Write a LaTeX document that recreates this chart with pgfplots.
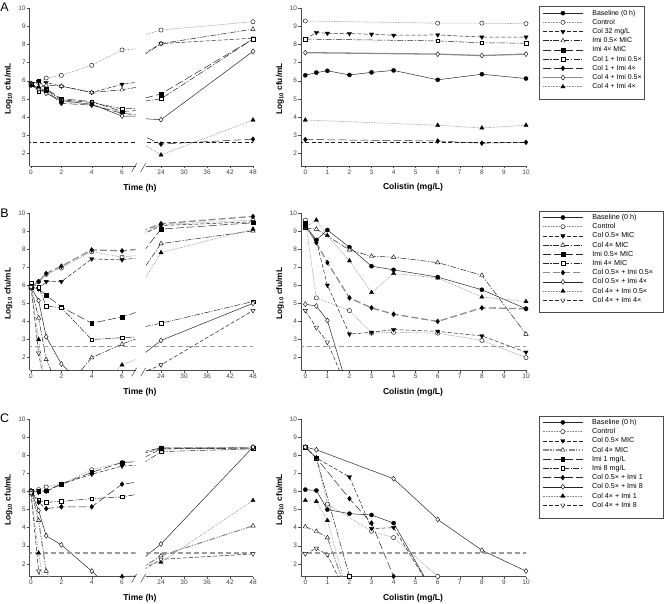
\documentclass[border=0pt]{standalone}
\usepackage{pgfplots}
\pgfplotsset{compat=1.18}
\usepackage{pgfplotstable}
\usepackage{fontspec}
\setmainfont{Liberation Sans}

% ---------------- data ----------------
\pgfplotstableread{
t ctl c32 i05 i4 c1i05 c1i4 c4i05 c4i4
0 5.85 5.85 5.85 5.8 5.8 5.75 5.8 5.75
0.5 5.9 5.95 5.6 6.0 5.4 5.6 5.55 5.65
1 6.15 5.9 5.75 5.55 5.5 5.45 5.3 5.4
2 6.3 5.7 5.7 5.0 4.95 4.75 4.9 4.85
4 6.85 5.35 5.35 4.85 4.8 4.65 4.7 4.7
6 7.7 5.8 5.5 4.3 4.45 4.2 4.05 4.25
24 8.8 8.05 8.05 5.27 5.0 2.5 3.85 1.9
48 9.26 8.35 8.85 8.3 8.3 2.77 7.62 3.83
}\Aleft
\pgfplotstableread{
x base ctl c32 c1i05 c1i4 c4i05 c4i4
0 6.3 9.3 8.3 8.3 2.75 7.55 3.83
0.5 6.45 nan 8.66 nan nan nan nan
1 6.55 nan 8.62 nan nan nan nan
2 6.32 nan 8.6 nan nan nan nan
3 6.46 nan 8.57 nan nan nan nan
4 6.57 nan 8.51 nan nan nan nan
6 6.05 9.18 8.53 8.2 2.67 7.47 3.54
8 6.36 9.18 8.41 8.09 2.55 7.39 3.39
10 6.12 9.15 8.41 8.08 2.6 7.47 3.54
}\Aright
\pgfplotstableread{
t ctl c05 c4 i05 i4 c05i05 c05i4 c4i05 c4i4
0 5.9 5.9 5.9 5.9 6.15 5.9 5.9 5.9 5.9
0.5 6.2 5.8 4.2 5.8 5.9 6.2 5.15 3.0 2.25
1 6.6 6.2 1.9 5.45 4.85 6.65 3.15 0 0
2 6.95 6.2 0 4.8 4.75 7.05 1.65 0 0
4 7.85 7.45 2.0 3.9 3.0 7.95 0 0 0
6 7.55 7.4 2.75 4.25 3.1 7.9 0 1.6 0
24 9.35 9.3 8.3 9.1 3.9 9.4 2.95 7.8 1.6
48 9.6 9.5 9.0 9.45 5.1 9.8 5.0 9.1 4.6
}\Bleft
\pgfplotstableread{
x base ctl c05 c4 i05 i4 c05i05 c05i4 c4i05 c4i4
0 9.3 9.6 9.25 9.15 9.45 9.2 9.3 4.95 9.2 4.6
0.5 8.5 5.3 8.45 9.1 nan nan 8.35 4.85 9.6 3.65
1 9.05 nan 6.0 nan nan nan 7.25 4.05 8.75 2.85
2 8.1 4.6 3.3 7.95 nan nan 5.3 0 7.35 0
3 7.05 3.35 3.4 7.6 nan nan 4.75 nan 5.6 nan
4 6.85 3.4 3.55 7.55 nan nan 4.4 nan 6.65 nan
6 6.45 3.35 3.45 7.25 nan nan 4.0 nan 6.4 nan
8 5.75 2.95 3.2 6.55 nan nan 4.75 nan 5.35 nan
10 4.7 2.0 2.3 3.3 nan nan 4.7 nan 5.1 nan
}\Bright
\pgfplotstableread{
t ctl c05 c4 i1 i8 c05i1 c05i8 c4i1 c4i8
0 6.0 6.0 6.05 5.95 6.0 5.95 6.0 5.9 5.9
0.5 6.1 5.95 4.4 6.0 5.5 5.4 4.95 2.6 1.6
1 6.25 6.0 1.6 6.05 5.4 5.05 3.55 0 0
2 6.4 6.4 0 6.4 5.45 5.15 3.05 0 0
4 7.2 6.95 0 7.05 5.6 5.15 1.6 0 0
6 7.6 7.4 0 7.6 5.7 6.4 0 1.31 0
24 8.4 8.35 2.45 8.4 8.2 8.35 3.1 2.1 2.25
48 8.45 8.4 4.1 8.4 8.35 8.4 8.45 5.5 2.55
}\Cleft
\pgfplotstableread{
x base ctl c05 c4 i1 i8 c05i1 c05i8 c4i1 c4i8
0 6.1 8.45 8.45 4.05 8.45 8.45 8.45 8.45 5.5 2.55
0.5 6.05 7.85 7.85 3.8 nan 7.85 7.85 8.3 5.45 2.85
1 5.0 5.3 nan 3.45 nan nan nan nan 4.4 2.5
2 4.77 nan 6.8 0 nan 1.31 5.6 nan 0 0
3 4.7 3.8 3.95 nan nan nan 4.25 nan nan nan
4 4.25 3.45 4.0 nan nan nan 1.31 6.7 nan nan
6 0 1.31 0 nan nan nan nan 4.45 nan nan
8 nan nan nan nan nan nan nan 2.75 nan nan
10 nan nan nan nan nan nan nan 1.6 nan nan
}\Cright

% ---------------- styles ----------------
\pgfplotsset{
 sSolid/.style={black!85, line width=0.5bp, solid},
 sDot/.style={black!45, line width=0.6bp, dash pattern=on 0.7bp off 0.9bp},
 sDash/.style={black!85, line width=0.5bp, dash pattern=on 4bp off 2bp},
 sDashDot/.style={black!85, line width=0.5bp, dash pattern=on 6bp off 1.5bp on 1.2bp off 1.5bp},
 sLong/.style={black!85, line width=0.5bp, dash pattern=on 8bp off 3bp},
 sGray/.style={black!45, line width=1.3bp, solid},
 sGrayLong/.style={black!45, line width=1.3bp, dash pattern=on 7bp off 3bp},
 sGrayDDD/.style={black!45, line width=1.1bp, dash pattern=on 6bp off 1.5bp on 1.2bp off 1.5bp on 1.2bp off 1.5bp},
 mFC/.style={mark=*, mark size=2.1bp, mark options={solid, fill=black, draw=black, line width=0.3bp}},
 mOC/.style={mark=*, mark size=2.1bp, mark options={solid, fill=white, draw=black, line width=0.4bp}},
 mFTd/.style={mark=triangle*, mark size=2.5bp, mark options={solid, fill=black, draw=black, rotate=180, line width=0.3bp}},
 mOTd/.style={mark=triangle*, mark size=2.5bp, mark options={solid, fill=white, draw=black, rotate=180, line width=0.4bp}},
 mFTu/.style={mark=triangle*, mark size=2.5bp, mark options={solid, fill=black, draw=black, line width=0.3bp}},
 mOTu/.style={mark=triangle*, mark size=2.5bp, mark options={solid, fill=white, draw=black, line width=0.4bp}},
 mFS/.style={mark=square*, mark size=1.8bp, mark options={solid, fill=black, draw=black, line width=0.3bp}},
 mOS/.style={mark=square*, mark size=1.8bp, mark options={solid, fill=white, draw=black, line width=0.4bp}},
 mFD/.style={mark=diamond*, mark size=2.5bp, mark options={solid, fill=black, draw=black, line width=0.3bp}},
 mOD/.style={mark=diamond*, mark size=2.5bp, mark options={solid, fill=white, draw=black, line width=0.4bp}},
 lodA/.style={black!90, line width=0.6bp, dash pattern=on 4bp off 2.5bp, forget plot},
 lodB/.style={black!40, line width=1.2bp, dash pattern=on 5bp off 3bp, forget plot},
 panel/.style={scale only axis, height=157.5bp, ymin=1.3, ymax=10, ytick={2,3,...,10},
   axis x line*=bottom, axis y line*=left, tick align=outside, major tick length=2.5bp,
   every tick/.style={black!70, line width=0.4bp},
   axis line style={black!70, line width=0.5bp},
   tick label style={font=\fontsize{6.5}{7}\selectfont, text=black!75, inner sep=1.2bp},
   /pgf/number format/assume math mode=true, anchor=south west},
 seg1/.style={panel, width=106.2bp, xmin=-0.1, xmax=6.9, xtick={0,2,4,6}},
 seg2/.style={panel, width=107.3bp, xmin=20, xmax=48, xtick={24,30,36,42,48}, axis y line=none, ytick=\empty},
 colax/.style={panel, width=225.1bp, xmin=-0.2, xmax=10, xtick={0,1,...,10},
   legend cell align=left,
   legend image code/.code={\draw[mark repeat=2,mark phase=2,##1] plot coordinates {(0bp,0bp) (20bp,0bp) (40bp,0bp)};},
   legend style={anchor=north west, draw=none, fill=none,
     font=\fontsize{7.2}{8}\selectfont, inner xsep=3bp, inner ysep=2bp, row sep=0.8bp,
     nodes={inner sep=0.8bp, text height=5.4bp, text depth=1.4bp},
     /tikz/column 1/.style={column sep=8bp}}},
 % panel A series
 aBase/.style={sSolid, mFC}, aCtl/.style={sDot, mOC}, aC32/.style={sDash, mFTd},
 aI05/.style={sDashDot, mOTu}, aI4/.style={sLong, mFS}, aC1I05/.style={sDashDot, mOS},
 aC1I4/.style={sLong, mFD}, aC4I05/.style={sGray, mOD}, aC4I4/.style={sDot, mFTu},
 % panel B series
 bBase/.style={sSolid, mFC}, bCtl/.style={sDot, mOC}, bC05/.style={sDash, mFTd},
 bC4/.style={sDashDot, mOTu}, bI05/.style={sLong, mFS}, bI4/.style={sDashDot, mOS},
 bC05I05/.style={sGrayLong, mFD}, bC05I4/.style={sSolid, mOD}, bC4I05/.style={sDot, mFTu},
 bC4I4/.style={sDash, mOTd},
 % panel C series
 cBase/.style={sSolid, mFC}, cCtl/.style={sDot, mOC}, cC05/.style={sDash, mFTd},
 cC4/.style={sGrayDDD, mOTu}, cI1/.style={sLong, mFS}, cI8/.style={sDashDot, mOS},
 cC05I1/.style={sLong, mFD}, cC05I8/.style={sSolid, mOD}, cC4I1/.style={sDot, mFTu},
 cC4I8/.style={sDash, mOTd},
}

\newcommand{\timeA}{%
 \addplot[aCtl] table[x=t,y=ctl]{\Aleft};
 \addplot[aC32] table[x=t,y=c32]{\Aleft};
 \addplot[aI05] table[x=t,y=i05]{\Aleft};
 \addplot[aI4] table[x=t,y=i4]{\Aleft};
 \addplot[aC1I05] table[x=t,y=c1i05]{\Aleft};
 \addplot[aC1I4] table[x=t,y=c1i4]{\Aleft};
 \addplot[sSolid, mOD] table[x=t,y=c4i05]{\Aleft};
 \addplot[aC4I4] table[x=t,y=c4i4]{\Aleft};
 \addplot[lodA] coordinates {(-5,2.6) (60,2.6)};
}
\newcommand{\timeB}{%
 \addplot[bCtl] table[x=t,y=ctl]{\Bleft};
 \addplot[bC05] table[x=t,y=c05]{\Bleft};
 \addplot[bC4] table[x=t,y=c4]{\Bleft};
 \addplot[bI05] table[x=t,y=i05]{\Bleft};
 \addplot[bI4] table[x=t,y=i4]{\Bleft};
 \addplot[bC05I05] table[x=t,y=c05i05]{\Bleft};
 \addplot[bC05I4] table[x=t,y=c05i4]{\Bleft};
 \addplot[bC4I05] table[x=t,y=c4i05]{\Bleft};
 \addplot[bC4I4] table[x=t,y=c4i4]{\Bleft};
 \addplot[lodB] coordinates {(-5,2.6) (60,2.6)};
}
\newcommand{\timeC}{%
 \addplot[cCtl] table[x=t,y=ctl]{\Cleft};
 \addplot[cC05] table[x=t,y=c05]{\Cleft};
 \addplot[cC4] table[x=t,y=c4]{\Cleft};
 \addplot[cI1] table[x=t,y=i1]{\Cleft};
 \addplot[cI8] table[x=t,y=i8]{\Cleft};
 \addplot[cC05I1] table[x=t,y=c05i1]{\Cleft};
 \addplot[cC05I8] table[x=t,y=c05i8]{\Cleft};
 \addplot[cC4I1] table[x=t,y=c4i1]{\Cleft};
 \addplot[cC4I8] table[x=t,y=c4i8]{\Cleft};
 \addplot[lodB] coordinates {(-5,2.6) (60,2.6)};
}

\begin{document}
\begin{tikzpicture}
\path[use as bounding box] (0bp,0bp) rectangle (664bp,-604bp);

% legend frames
\begin{scope}[x=1bp,y=1bp]
 \draw[black!70, line width=0.6bp] (539,-6.7) rectangle (644.5,-99);
 \draw[black!70, line width=0.6bp] (539,-211) rectangle (663,-312.7);
 \draw[black!70, line width=0.6bp] (539,-416) rectangle (663,-518);
\end{scope}

% ================= ROW A =================
\begin{axis}[seg1, at={(29.5bp,-165.8bp)}] \timeA \end{axis}
\begin{axis}[seg2, at={(145.7bp,-165.8bp)}] \timeA \end{axis}
\begin{axis}[colax, at={(300.9bp,-165.8bp)}, legend style={at={(axis description cs:1.058,1.010)}, font=\fontsize{7.0}{8}\selectfont}]
 \addplot[aBase] table[x=x,y=base]{\Aright}; \addlegendentry{Baseline (0 h)}
 \addplot[aCtl] table[x=x,y=ctl]{\Aright}; \addlegendentry{Control}
 \addplot[aC32] table[x=x,y=c32]{\Aright}; \addlegendentry{Col 32 mg/L}
 \addlegendimage{aI05} \addlegendentry{Imi 0.5× MIC}
 \addlegendimage{aI4} \addlegendentry{Imi 4× MIC}
 \addplot[aC1I05] table[x=x,y=c1i05]{\Aright}; \addlegendentry{Col 1 + Imi 0.5×}
 \addplot[aC1I4] table[x=x,y=c1i4]{\Aright}; \addlegendentry{Col 1 + Imi 4×}
 \addplot[aC4I05] table[x=x,y=c4i05]{\Aright}; \addlegendentry{Col 4 + Imi 0.5×}
 \addplot[aC4I4] table[x=x,y=c4i4]{\Aright}; \addlegendentry{Col 4 + Imi 4×}
 \addplot[lodA] coordinates {(-5,2.6) (60,2.6)};
\end{axis}

% ================= ROW B =================
\begin{axis}[seg1, at={(29.5bp,-370.3bp)}] \timeB \end{axis}
\begin{axis}[seg2, at={(145.7bp,-370.3bp)}] \timeB \end{axis}
\begin{axis}[colax, at={(300.9bp,-370.3bp)}, legend style={at={(axis description cs:1.058,1.011)}}]
 \addplot[bBase] table[x=x,y=base]{\Bright}; \addlegendentry{Baseline (0 h)}
 \addplot[bCtl] table[x=x,y=ctl]{\Bright}; \addlegendentry{Control}
 \addplot[bC05] table[x=x,y=c05]{\Bright}; \addlegendentry{Col 0.5× MIC}
 \addplot[bC4] table[x=x,y=c4]{\Bright}; \addlegendentry{Col 4× MIC}
 \addplot[bI05] table[x=x,y=i05]{\Bright}; \addlegendentry{Imi 0.5× MIC}
 \addplot[bI4] table[x=x,y=i4]{\Bright}; \addlegendentry{Imi 4× MIC}
 \addplot[bC05I05] table[x=x,y=c05i05]{\Bright}; \addlegendentry{Col 0.5× + Imi 0.5×}
 \addplot[bC05I4] table[x=x,y=c05i4]{\Bright}; \addlegendentry{Col 0.5× + Imi 4×}
 \addplot[bC4I05] table[x=x,y=c4i05]{\Bright}; \addlegendentry{Col 4× + Imi 0.5×}
 \addplot[bC4I4] table[x=x,y=c4i4]{\Bright}; \addlegendentry{Col 4× + Imi 4×}
 \addplot[lodB] coordinates {(-5,2.6) (60,2.6)};
\end{axis}

% ================= ROW C =================
\begin{axis}[seg1, at={(29.5bp,-576.5bp)}] \timeC \end{axis}
\begin{axis}[seg2, at={(145.7bp,-576.5bp)}] \timeC \end{axis}
\begin{axis}[colax, at={(300.9bp,-576.5bp)}, legend style={at={(axis description cs:1.058,1.019)}}]
 \addplot[cBase] table[x=x,y=base]{\Cright}; \addlegendentry{Baseline (0 h)}
 \addplot[cCtl] table[x=x,y=ctl]{\Cright}; \addlegendentry{Control}
 \addplot[cC05] table[x=x,y=c05]{\Cright}; \addlegendentry{Col 0.5× MIC}
 \addplot[cC4] table[x=x,y=c4]{\Cright}; \addlegendentry{Col 4× MIC}
 \addplot[cI1] table[x=x,y=i1]{\Cright}; \addlegendentry{Imi 1 mg/L}
 \addplot[cI8] table[x=x,y=i8]{\Cright}; \addlegendentry{Imi 8 mg/L}
 \addplot[cC05I1] table[x=x,y=c05i1]{\Cright}; \addlegendentry{Col 0.5× + Imi 1}
 \addplot[cC05I8] table[x=x,y=c05i8]{\Cright}; \addlegendentry{Col 0.5× + Imi 8}
 \addplot[cC4I1] table[x=x,y=c4i1]{\Cright}; \addlegendentry{Col 4× + Imi 1}
 \addplot[cC4I8] table[x=x,y=c4i8]{\Cright}; \addlegendentry{Col 4× + Imi 8}
 \addplot[lodB] coordinates {(-5,2.6) (60,2.6)};
\end{axis}

\begin{scope}[x=1bp,y=1bp]
% ---------- axis breaks ----------
\foreach \yb in {165.8,370.3,576.5}{
 \draw[black!75, line width=0.5bp] (131.7,-\yb-6) -- (136.7,-\yb+2.5);
 \draw[black!75, line width=0.5bp] (140.7,-\yb-6) -- (145.7,-\yb+2.5);
}
% ---------- labels ----------
\foreach \yb/\yc in {165.8/87.0,370.3/291.5,576.5/497.8}{
 \node[font=\bfseries\fontsize{8.6}{9}\selectfont] at (140,-\yb-22) {Time (h)};
 \node[font=\bfseries\fontsize{8.6}{9}\selectfont] at (413,-\yb-22) {Colistin (mg/L)};
 \node[font=\bfseries\fontsize{8.3}{9}\selectfont, rotate=90] at (8.5,-\yc-2) {Log\textsubscript{10} cfu/mL};
 \node[font=\bfseries\fontsize{8.3}{9}\selectfont, rotate=90] at (280,-\yc-2) {Log\textsubscript{10} cfu/mL};
}
\node[font=\fontsize{12.5}{13}\selectfont] at (4.5,-7.5) {A};
\node[font=\fontsize{12.5}{13}\selectfont] at (4.5,-213) {B};
\node[font=\fontsize{12.5}{13}\selectfont] at (4.5,-418) {C};
\end{scope}
\end{tikzpicture}
\end{document}
